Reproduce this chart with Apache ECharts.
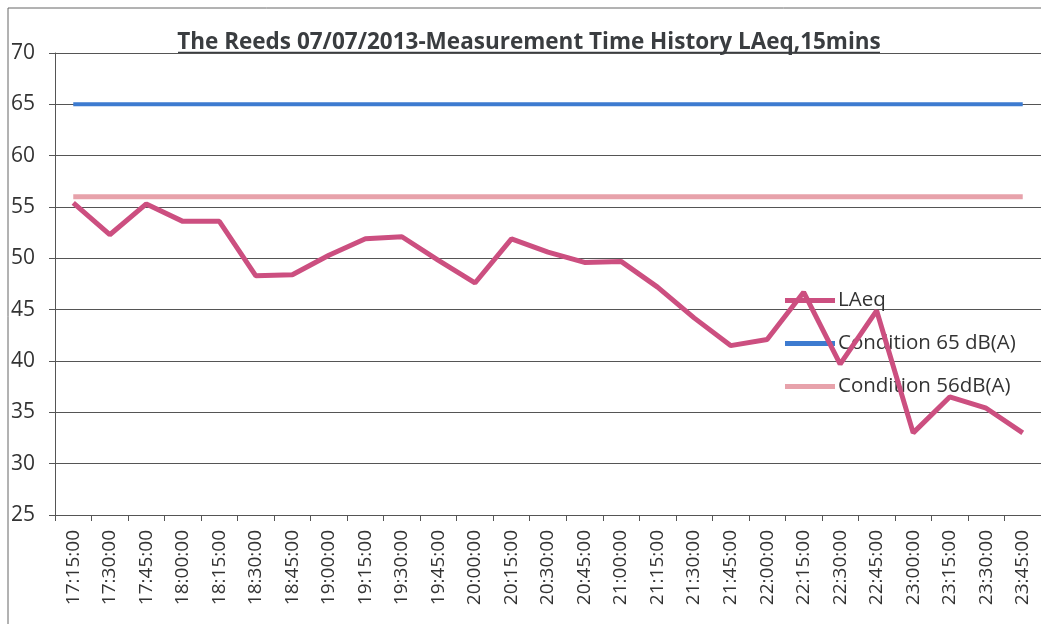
<!DOCTYPE html>
<html>
<head>
<meta charset="utf-8">
<script src="https://cdn.jsdelivr.net/npm/echarts@6/dist/echarts.min.js"></script>
<style>
html,body{margin:0;padding:0;background:#fff;}
#chart{width:1041px;height:624px;}
</style>
</head>
<body>
<div id="chart"></div>
<script>
const titleText = 'The Reeds 07/07/2013-Measurement Time History LAeq,15mins';
const categories = ['17:15:00','17:30:00','17:45:00','18:00:00','18:15:00','18:30:00','18:45:00','19:00:00','19:15:00','19:30:00','19:45:00','20:00:00','20:15:00','20:30:00','20:45:00','21:00:00','21:15:00','21:30:00','21:45:00','22:00:00','22:15:00','22:30:00','22:45:00','23:00:00','23:15:00','23:30:00','23:45:00'];
const laeq = [55.4, 52.3, 55.3, 53.6, 53.6, 48.3, 48.4, 50.3, 51.9, 52.1, 49.8, 47.6, 51.9, 50.6, 49.6, 49.7, 47.2, 44.2, 41.5, 42.1, 46.7, 39.7, 44.9, 33.0, 36.5, 35.4, 33.0];
const cond65 = [65, 65, 65, 65, 65, 65, 65, 65, 65, 65, 65, 65, 65, 65, 65, 65, 65, 65, 65, 65, 65, 65, 65, 65, 65, 65, 65];
const cond56 = [56, 56, 56, 56, 56, 56, 56, 56, 56, 56, 56, 56, 56, 56, 56, 56, 56, 56, 56, 56, 56, 56, 56, 56, 56, 56, 56];
const seriesNames = ['LAeq', 'Condition 65 dB(A)', 'Condition 56dB(A)'];

const chart = echarts.init(document.getElementById('chart'), null, {renderer: 'canvas'});
const font = '"Open Sans", "DejaVu Sans", sans-serif';
chart.setOption({
  animation: false,
  backgroundColor: '#fff',
  textStyle: {fontFamily: font},
  title: {
    text: titleText,
    left: 529, textAlign: 'center',
    top: 31, padding: 0,
    textStyle: {fontFamily: font, fontSize: 22.5, fontWeight: 'bold', color: '#3a3d40'}
  },
  graphic: [
    {type: 'rect', shape: {x: 8, y: 8, width: 1200, height: 800}, style: {fill: 'none', stroke: '#666', lineWidth: 1}, silent: true, z: -1},
    {type: 'line', shape: {x1: 178, y1: 52.5, x2: 880, y2: 52.5}, style: {stroke: '#3a3d40', lineWidth: 1.5}, silent: true}
  ],
  legend: {
    orient: 'vertical',
    left: 785, top: 290, padding: 0,
    icon: 'rect',
    itemWidth: 50, itemHeight: 5, itemGap: 22,
    textStyle: {fontFamily: font, fontSize: 20.5, color: '#333', padding: [0,0,0,-2]},
    data: seriesNames
  },
  grid: {left: 55, top: 53, width: 990, height: 462, containLabel: false},
  xAxis: {
    type: 'category',
    data: categories,
    boundaryGap: true,
    axisLine: {show: true, lineStyle: {color: '#555', width: 1}},
    axisTick: {show: true, length: 6, lineStyle: {color: '#555'}},
    axisLabel: {rotate: 90, fontSize: 19, color: '#333', margin: 15, interval: 0, fontFamily: font},
    splitLine: {show: false}
  },
  yAxis: {
    type: 'value',
    min: 25, max: 70, interval: 5,
    axisLine: {show: true, lineStyle: {color: '#555', width: 1}},
    axisTick: {show: true, length: 6, lineStyle: {color: '#555'}},
    axisLabel: {fontSize: 21, color: '#333', margin: 20, fontFamily: font},
    splitLine: {show: true, lineStyle: {color: '#555', width: 1}}
  },
  series: [
    {name: seriesNames[0], type: 'line', data: laeq, symbol: 'none', z: 5,
     lineStyle: {color: '#cc4f80', width: 5}, itemStyle: {color: '#cc4f80'}},
    {name: seriesNames[1], type: 'line', data: cond65, symbol: 'none', z: 3,
     lineStyle: {color: '#3d7bd0', width: 4}, itemStyle: {color: '#3d7bd0'}},
    {name: seriesNames[2], type: 'line', data: cond56, symbol: 'none', z: 3,
     lineStyle: {color: '#e7a2ab', width: 5}, itemStyle: {color: '#e7a2ab'}}
  ]
});
</script>
</body>
</html>
